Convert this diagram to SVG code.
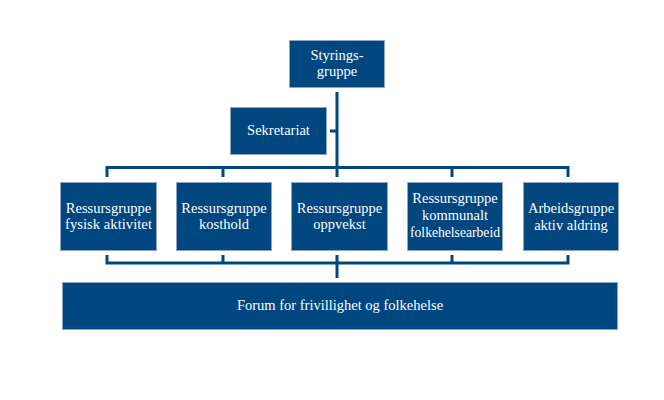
<svg xmlns="http://www.w3.org/2000/svg" width="664" height="400" viewBox="0 0 664 400">
<style>
.box{fill:#00467f;stroke:#8ea5c4;stroke-width:1}
.t{font-family:"Liberation Serif","Times New Roman",serif;font-size:14.5px;fill:#ffffff;text-anchor:middle}
.c{stroke:#00467f;stroke-width:3;fill:none;stroke-linecap:butt}
</style>
<rect width="664" height="400" fill="#ffffff"/>
<g id="connectors">
<path class="c" d="M337 92 V167.5"/>
<path class="c" d="M330 131 H337"/>
<path class="c" d="M107 177 V167.5 H568 V177"/>
<path class="c" d="M223 167.5 V177 M337 167.5 V177 M452 167.5 V177"/>
<path class="c" d="M107 255 V263 H568 V255"/>
<path class="c" d="M223 255 V263 M452 255 V263"/>
<path class="c" d="M337 255 V278"/>
</g>
<g id="styringsgruppe">
<rect class="box" x="289.5" y="40.5" width="95" height="47"/>
<text class="t" x="337" y="60">Styrings-</text>
<text class="t" x="337" y="76">gruppe</text>
</g>
<g id="sekretariat">
<rect class="box" x="230.5" y="107.5" width="96" height="47"/>
<text class="t" x="278.5" y="135">Sekretariat</text>
</g>
<g id="fysisk">
<rect class="box" x="60.5" y="182.5" width="96" height="68"/>
<text class="t" x="108.5" y="213">Ressursgruppe</text>
<text class="t" x="108.5" y="229" textLength="87" lengthAdjust="spacingAndGlyphs">fysisk aktivitet</text>
</g>
<g id="kosthold">
<rect class="box" x="176.5" y="182.5" width="95" height="68"/>
<text class="t" x="224" y="213">Ressursgruppe</text>
<text class="t" x="224" y="229">kosthold</text>
</g>
<g id="oppvekst">
<rect class="box" x="291.5" y="182.5" width="96" height="68"/>
<text class="t" x="339.5" y="213">Ressursgruppe</text>
<text class="t" x="339.5" y="229">oppvekst</text>
</g>
<g id="kommunalt">
<rect class="box" x="407.5" y="182.5" width="95" height="68"/>
<text class="t" x="455" y="203">Ressursgruppe</text>
<text class="t" x="455" y="220">kommunalt</text>
<text class="t" x="455" y="237" textLength="90" lengthAdjust="spacingAndGlyphs">folkehelsearbeid</text>
</g>
<g id="aldring">
<rect class="box" x="523.5" y="182.5" width="95" height="68"/>
<text class="t" x="571" y="213">Arbeidsgruppe</text>
<text class="t" x="571" y="230">aktiv aldring</text>
</g>
<g id="forum">
<rect class="box" x="62.5" y="282.5" width="555" height="47"/>
<text class="t" x="340" y="310">Forum for frivillighet og folkehelse</text>
</g>
</svg>
